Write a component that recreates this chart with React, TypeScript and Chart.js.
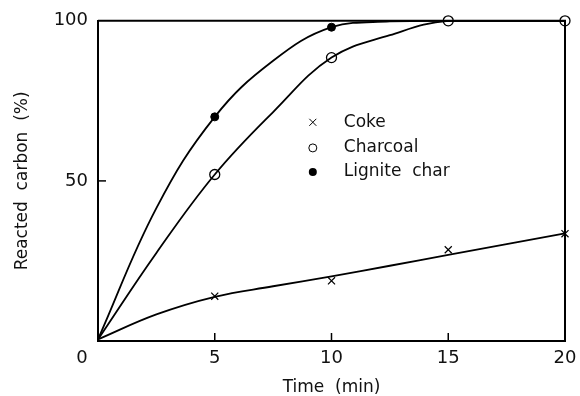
import React, { useEffect, useRef } from 'react';
import { Chart, registerables } from 'chart.js';

Chart.register(...registerables);

// Measured points
const cokeTime = [5, 10, 15, 20];
const cokeValues = [14, 18.8, 28.5, 33.5];
const charcoalTime = [5, 10, 15, 20];
const charcoalValues = [52, 88.5, 100, 100];
const ligniteTime = [5, 10, 20];
const ligniteValues = [70, 98, 100];

// Drawn (fitted) curves
const curveTime = [0, 2.5, 5, 7.5, 10, 12.5, 15, 20];
const cokeCurve = [0.5, 8.3, 13.8, 17.1, 20.2, 23.5, 26.9, 33.6];
const charcoalCurve = [0.5, 27.5, 52, 71.5, 88.5, 95.5, 100, 100];
const ligniteCurve = [0.5, 41.5, 70, 87.5, 98, 99.8, 100, 100];

const seriesNames = ['Coke', 'Charcoal', 'Lignite  char'];
const xTickValues = [5, 10, 15];
const yTickValues = [50];
const xTitle = 'Time  (min)';
const yTitle = 'Reacted  carbon  (%)';
const originLabel = '0';

const FONT = '"DejaVu Sans", sans-serif';

const pts = (xs: number[], ys: number[]) => xs.map((x, i) => ({ x, y: ys[i] }));

const framePlugin = {
  id: 'frame',
  afterDraw(chart: any) {
    const { ctx, chartArea, scales } = chart;
    const { left, right, top, bottom } = chartArea;
    ctx.save();
    ctx.strokeStyle = '#000';
    ctx.lineWidth = 2;
    ctx.beginPath();
    ctx.moveTo(left, top);
    ctx.lineTo(right, top);
    ctx.lineTo(right, bottom);
    ctx.stroke();
    // inward ticks
    ctx.lineWidth = 1.5;
    xTickValues.forEach((v) => {
      const px = scales.x.getPixelForValue(v);
      ctx.beginPath();
      ctx.moveTo(px, bottom);
      ctx.lineTo(px, bottom - 8);
      ctx.stroke();
    });
    yTickValues.forEach((v) => {
      const py = scales.y.getPixelForValue(v);
      ctx.beginPath();
      ctx.moveTo(left, py);
      ctx.lineTo(left + 8, py);
      ctx.stroke();
    });
    // origin label
    ctx.fillStyle = '#111';
    ctx.font = `18px ${FONT}`;
    ctx.textAlign = 'center';
    ctx.textBaseline = 'middle';
    ctx.fillText(originLabel, left - 16, bottom + 17);

    // legend
    const lx = scales.x.getPixelForValue(9.2);
    const tx = lx + 31;
    const rows = [
      scales.y.getPixelForValue(68.3),
      scales.y.getPixelForValue(60.3),
      scales.y.getPixelForValue(52.8),
    ];
    ctx.textAlign = 'left';
    ctx.font = `17px ${FONT}`;
    rows.forEach((ry, i) => {
      ctx.strokeStyle = '#000';
      ctx.lineWidth = 1;
      if (i === 0) {
        const r = 3.5;
        ctx.beginPath();
        ctx.moveTo(lx - r, ry - r);
        ctx.lineTo(lx + r, ry + r);
        ctx.moveTo(lx + r, ry - r);
        ctx.lineTo(lx - r, ry + r);
        ctx.stroke();
      } else if (i === 1) {
        ctx.beginPath();
        ctx.fillStyle = '#fff';
        ctx.arc(lx, ry, 4, 0, Math.PI * 2);
        ctx.fill();
        ctx.stroke();
      } else {
        ctx.beginPath();
        ctx.fillStyle = '#000';
        ctx.arc(lx, ry, 4, 0, Math.PI * 2);
        ctx.fill();
      }
      ctx.fillStyle = '#111';
      ctx.fillText(seriesNames[i], tx, ry);
    });
    ctx.restore();
  },
};

export default function App() {
  const ref = useRef<HTMLCanvasElement | null>(null);

  useEffect(() => {
    document.body.style.margin = '0';
    if (!ref.current) return;
    const curveStyle = {
      type: 'line' as const,
      borderColor: '#000',
      borderWidth: 1.8,
      pointRadius: 0,
      fill: false,
      tension: 0.4,
    };
    const chart = new Chart(ref.current, {
      type: 'line',
      data: {
        datasets: [
          { ...curveStyle, label: 'Coke curve', data: pts(curveTime, cokeCurve) },
          { ...curveStyle, label: 'Charcoal curve', data: pts(curveTime, charcoalCurve) },
          { ...curveStyle, label: 'Lignite curve', data: pts(curveTime, ligniteCurve) },
          {
            label: seriesNames[0],
            data: pts(cokeTime, cokeValues),
            showLine: false,
            pointStyle: 'crossRot',
            pointRadius: 5,
            borderColor: '#000',
            borderWidth: 1.2,
          },
          {
            label: seriesNames[1],
            data: pts(charcoalTime, charcoalValues),
            showLine: false,
            pointStyle: 'circle',
            pointRadius: 5,
            backgroundColor: '#fff',
            borderColor: '#000',
            borderWidth: 1.3,
          },
          {
            label: seriesNames[2],
            data: pts(ligniteTime, ligniteValues),
            showLine: false,
            pointStyle: 'circle',
            pointRadius: 4,
            backgroundColor: '#000',
            borderColor: '#000',
            borderWidth: 1,
          },
        ],
      },
      options: {
        responsive: false,
        animation: false,
        clip: false as any,
        layout: { padding: { top: 20, right: 15, left: 0, bottom: 0 } },
        plugins: { legend: { display: false }, tooltip: { enabled: false } },
        scales: {
          x: {
            type: 'linear',
            min: 0,
            max: 20,
            grid: { display: false, drawTicks: false },
            border: { display: true, color: '#000', width: 2 },
            ticks: {
              stepSize: 5,
              color: '#111',
              font: { family: FONT, size: 18 },
              padding: 7,
              callback: (v: any) => (v === 0 ? '' : String(v)),
            },
            title: {
              display: true,
              text: xTitle,
              color: '#111',
              font: { family: FONT, size: 17, lineHeight: 1 },
              padding: { top: 0, bottom: 0 },
            },
            afterFit: (s: any) => {
              s.height = 55;
              s.paddingRight = 0;
              s.paddingLeft = 0;
            },
          },
          y: {
            type: 'linear',
            min: 0,
            max: 100,
            grid: { display: false, drawTicks: false },
            border: { display: true, color: '#000', width: 2 },
            ticks: {
              stepSize: 50,
              color: '#111',
              font: { family: FONT, size: 18 },
              padding: 10,
              callback: (v: any) => (v === 0 ? '' : String(v)),
            },
            title: {
              display: true,
              text: yTitle,
              color: '#111',
              font: { family: FONT, size: 17, lineHeight: 1.2 },
              padding: { top: 12, bottom: 0 },
            },
            afterFit: (s: any) => {
              s.width = 98;
            },
          },
        },
      },
      plugins: [framePlugin],
    });
    return () => chart.destroy();
  }, []);

  return (
    <div style={{ width: 580, height: 396, background: '#fff' }}>
      <canvas ref={ref} width={580} height={396} style={{ width: 580, height: 396 }} />
    </div>
  );
}
